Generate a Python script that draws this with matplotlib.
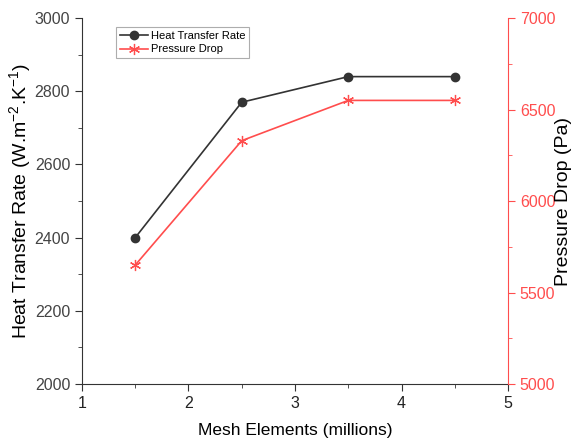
import matplotlib
matplotlib.use("Agg")
import matplotlib.pyplot as plt

plt.rcParams['font.family'] = ['Liberation Sans', 'DejaVu Sans']
plt.rcParams['mathtext.default'] = 'regular'

mesh = [1.5, 2.5, 3.5, 4.5]
heat_transfer = [2400, 2770, 2840, 2840]
pressure_drop = [5650, 6330, 6550, 6550]

red = '#ff4d4d'
fig = plt.figure(figsize=(5.75, 4.41), dpi=100)
ax = fig.add_axes([0.1426, 0.1293, 0.7409, 0.8297])
ax2 = ax.twinx()

l1, = ax.plot(mesh, heat_transfer, color='#333333', marker='o', markersize=6, lw=1.2, label='Heat Transfer Rate')
l2, = ax2.plot(mesh, pressure_drop, color=red, marker=(6, 2, 0), markersize=8, markeredgewidth=0.9,
               lw=1.2, label='Pressure Drop')

ax.set_xlim(1, 5)
ax.set_ylim(2000, 3000)
ax2.set_ylim(5000, 7000)
ax.set_xticks([1, 2, 3, 4, 5])
ax.set_xticks([1.5, 2.5, 3.5, 4.5], minor=True)
ax.set_yticks([2000, 2200, 2400, 2600, 2800, 3000])
ax.set_yticks([2100, 2300, 2500, 2700, 2900], minor=True)
ax2.set_yticks([5000, 5500, 6000, 6500, 7000])
ax2.set_yticks([5250, 5750, 6250, 6750], minor=True)

for a in (ax, ax2):
    a.spines['top'].set_visible(False)
ax.spines['right'].set_visible(False)
ax2.spines['left'].set_visible(False)
ax2.spines['bottom'].set_visible(False)
ax2.spines['right'].set_color(red)
ax.spines['left'].set_color('#333333')
ax.spines['bottom'].set_color('#333333')

ax.tick_params(axis='both', which='major', direction='out', length=5, labelsize=11.5, colors='#333333', labelcolor='#222222')
ax.tick_params(axis='both', which='minor', direction='out', length=3, colors='#333333')
ax.tick_params(axis='y', labelcolor='#444444')
ax2.tick_params(axis='y', which='major', direction='out', length=5, labelsize=11.5, colors=red)
ax2.tick_params(axis='y', which='minor', direction='out', length=3, colors=red)

ax.set_xlabel('Mesh Elements (millions)', fontsize=12.5, labelpad=9)
ax.set_ylabel('Heat Transfer Rate (W.m$^{-2}$.K$^{-1}$)', fontsize=14, labelpad=1)
ax2.set_ylabel('Pressure Drop (Pa)', fontsize=14, labelpad=0)

leg = ax.legend(handles=[l1, l2], loc='upper left', bbox_to_anchor=(0.08, 0.975), fontsize=8,
                frameon=True, fancybox=False, edgecolor='#999999', handlelength=2.5,
                borderpad=0.35, labelspacing=0.3, handletextpad=0.3, borderaxespad=0)
leg.get_frame().set_linewidth(0.8)

fig.savefig('out.png', dpi=100)
